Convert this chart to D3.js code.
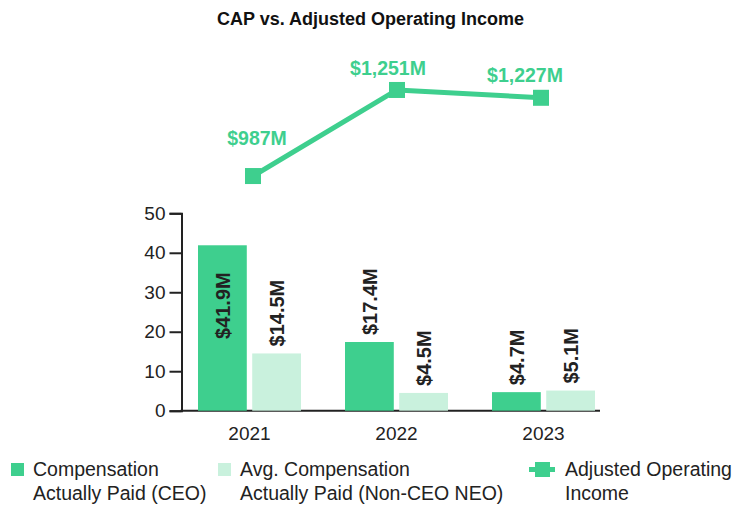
<!DOCTYPE html>
<html>
<head>
<meta charset="utf-8">
<script src="https://cdn.jsdelivr.net/npm/d3@7"></script>
<style>
  html, body { margin: 0; padding: 0; background: #fff; }
  svg { display: block; font-family: "Liberation Sans", Arial, Helvetica, sans-serif; }
</style>
</head>
<body>
<svg id="chart" width="738" height="505"></svg>
<script>
// Fiscal years shown
const years = ["2021", "2022", "2023"];
// Compensation actually paid, $M
const ceoCap = [41.9, 17.4, 4.7];
const neoCap = [14.5, 4.5, 5.1];
// Adjusted operating income, $M
const adjOpIncome = [987, 1251, 1227];
// Left axis ticks
const yTicks = [0, 10, 20, 30, 40, 50];

const DARK = "#3ecf8e";
const LIGHT = "#c9f1dd";
const INK = "#222";

const svg = d3.select("#chart");

// Title
svg.append("text")
  .attr("x", 370.5).attr("y", 25)
  .attr("text-anchor", "middle")
  .attr("font-size", 18).attr("font-weight", "bold")
  .attr("fill", "#111")
  .text("CAP vs. Adjusted Operating Income");

// Scales for the bar section
const x0 = d3.scaleBand().domain(years).range([176, 617]).padding(0);
const x1 = d3.scaleBand().domain(["ceo", "neo"]).range([0, 103]).paddingInner(0.1).paddingOuter(0);
const y = d3.scaleLinear().domain([0, 50]).range([410.7, 213.3]);

// Scales for the operating income line
const xl = d3.scalePoint().domain(years).range([253, 541]);
const yl = d3.scaleLinear().domain([800, 1300]).range([237, 74]);

// Left axis
const yAxis = svg.append("g")
  .attr("transform", "translate(181.5,0)")
  .call(d3.axisLeft(y).tickValues(yTicks).tickSize(12).tickPadding(4).tickSizeOuter(12));
yAxis.select(".domain").attr("stroke", INK).attr("stroke-width", 2);
yAxis.selectAll(".tick line").attr("stroke", INK).attr("stroke-width", 2);
yAxis.selectAll(".tick text")
  .attr("font-size", 19).attr("fill", INK)
  .attr("font-family", "Liberation Sans, Arial, sans-serif");

// Baseline
svg.append("line")
  .attr("x1", 180.5).attr("x2", 600)
  .attr("y1", y(0)).attr("y2", y(0))
  .attr("stroke", INK).attr("stroke-width", 2);

// Bars grouped by year
const rows = years.map((yr, i) => ({ year: yr, ceo: ceoCap[i], neo: neoCap[i] }));
const groups = svg.append("g").selectAll("g")
  .data(rows).join("g")
  .attr("transform", d => `translate(${x0(d.year) + x0.bandwidth() / 2 - 51.5},0)`);

const barData = d => [
  { key: "ceo", value: d.ceo, fill: DARK },
  { key: "neo", value: d.neo, fill: LIGHT }
];

groups.selectAll("rect")
  .data(barData).join("rect")
  .attr("x", d => x1(d.key))
  .attr("width", x1.bandwidth())
  .attr("y", d => y(d.value))
  .attr("height", d => y(0) - y(d.value))
  .attr("fill", d => d.fill);

// Rotated value labels; the tall bar holds its label inside
groups.selectAll("text.val")
  .data(barData).join("text")
  .attr("class", "val")
  .attr("transform", d => {
    const cx = x1(d.key) + x1.bandwidth() / 2;
    const inside = d.value > 30;
    const ty = inside ? y(d.value) + 27 : y(d.value) - 7;
    return `translate(${cx},${ty}) rotate(-90)`;
  })
  .attr("text-anchor", d => d.value > 30 ? "end" : "start")
  .attr("dy", "0.36em")
  .attr("font-size", 20).attr("font-weight", "bold")
  .attr("fill", INK)
  .text(d => `$${d.value.toFixed(1)}M`);

// Year labels
svg.append("g").selectAll("text")
  .data(years).join("text")
  .attr("x", d => x0(d) + x0.bandwidth() / 2)
  .attr("y", 440)
  .attr("text-anchor", "middle")
  .attr("font-size", 19).attr("fill", INK)
  .text(d => d);

// Operating income line
const pts = years.map((yr, i) => ({ year: yr, v: adjOpIncome[i] }));
svg.append("path")
  .datum(pts)
  .attr("d", d3.line().x(d => xl(d.year)).y(d => yl(d.v)))
  .attr("fill", "none").attr("stroke", DARK).attr("stroke-width", 5)
  .attr("stroke-linejoin", "round");

svg.append("g").selectAll("rect")
  .data(pts).join("rect")
  .attr("x", d => xl(d.year) - 8).attr("y", d => yl(d.v) - 8)
  .attr("width", 16).attr("height", 16)
  .attr("fill", DARK);

// Value labels above the line markers
const lineLabelOffset = [[4, -31], [-9, -15], [-16, -16]];
svg.append("g").selectAll("text")
  .data(pts).join("text")
  .attr("x", (d, i) => xl(d.year) + lineLabelOffset[i][0])
  .attr("y", (d, i) => yl(d.v) + lineLabelOffset[i][1])
  .attr("text-anchor", "middle")
  .attr("font-size", 19.5).attr("font-weight", "bold")
  .attr("fill", DARK)
  .text(d => `$${d3.format(",")(d.v)}M`);

// Legend
const legend = svg.append("g").attr("font-size", 19.5).attr("fill", INK);
const legendItems = [
  { x: 11, lines: ["Compensation", "Actually Paid (CEO)"], kind: "bar", fill: DARK },
  { x: 218, lines: ["Avg. Compensation", "Actually Paid (Non-CEO NEO)"], kind: "bar", fill: LIGHT },
  { x: 529, lines: ["Adjusted Operating", "Income"], kind: "line", fill: DARK }
];
legendItems.forEach(it => {
  const g = legend.append("g").attr("transform", `translate(${it.x},0)`);
  if (it.kind === "bar") {
    g.append("rect").attr("x", 0).attr("y", 463).attr("width", 13).attr("height", 13).attr("fill", it.fill);
    g.selectAll("text").data(it.lines).join("text")
      .attr("x", 22).attr("y", (d, i) => 476 + i * 24).text(d => d);
  } else {
    g.append("line").attr("x1", 0).attr("x2", 26).attr("y1", 469.5).attr("y2", 469.5)
      .attr("stroke", it.fill).attr("stroke-width", 5);
    g.append("rect").attr("x", 6).attr("y", 462).attr("width", 15).attr("height", 15).attr("fill", it.fill);
    g.selectAll("text").data(it.lines).join("text")
      .attr("x", 36).attr("y", (d, i) => 476 + i * 24).text(d => d);
  }
});
</script>
</body>
</html>
